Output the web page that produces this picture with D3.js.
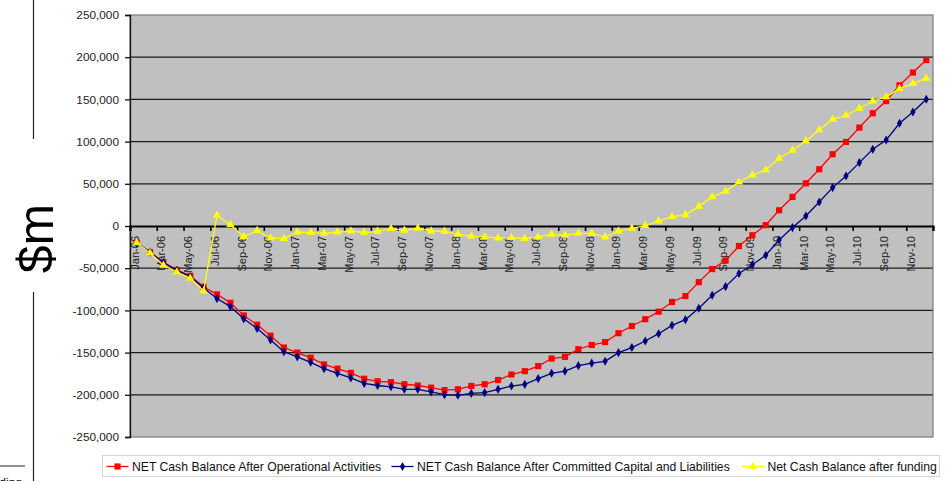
<!DOCTYPE html>
<html>
<head>
<meta charset="utf-8">
<script src="https://cdn.jsdelivr.net/npm/d3@7"></script>
<style>
  html, body { margin: 0; padding: 0; background: #ffffff; }
  svg { display: block; font-family: "Liberation Sans", Arial, sans-serif; }
</style>
</head>
<body>
<svg id="chart" width="950" height="481"></svg>
<script>
// Monthly periods, Jan-06 .. Dec-10
const monthNames = ["Jan","Feb","Mar","Apr","May","Jun","Jul","Aug","Sep","Oct","Nov","Dec"];
const years = ["06","07","08","09","10"];
const months = years.flatMap(y => monthNames.map(m => m + "-" + y));

// Cash balances ($m)
const operational = [
  -20000, -31000, -43000, -52000, -59000, -72000, -81000, -91000, -106000, -117000, -130000, -144000,
  -150000, -156000, -164000, -169000, -174000, -181000, -184000, -185000, -187500, -189000, -191500, -194500,
  -193500, -189500, -187500, -182500, -176000, -172000, -166000, -157000, -155000, -146000, -141000, -137500,
  -127000, -118500, -110500, -101500, -90000, -83000, -66500, -51000, -41000, -23700, -11000, 1000,
  18600, 34400, 50600, 67200, 85000, 99600, 116600, 133600, 148000, 166700, 181800, 196700
];
const committed = [
  -20000, -31000, -43500, -52500, -60000, -73500, -86000, -95500, -110000, -121500, -135000, -149000,
  -155000, -161500, -169000, -174500, -180000, -186500, -189000, -190500, -193500, -193500, -196500, -199800,
  -200600, -198300, -197400, -193500, -189600, -187600, -180800, -174500, -172000, -165500, -162500, -160300,
  -150000, -144000, -136300, -127600, -117700, -111000, -97500, -82100, -71800, -56300, -46000, -34700,
  -16600, -1900, 11900, 28400, 45500, 59300, 75100, 90900, 101900, 121700, 135100, 150100
];
const afterFunding = [
  -20000, -32000, -46500, -54500, -62000, -77000, 12700, 1600, -12600, -5500, -14200, -15000,
  -7100, -7900, -8700, -7100, -5900, -7900, -6300, -3100, -5100, -2700, -5900, -6300,
  -9800, -11900, -13000, -14200, -13800, -15000, -13000, -9800, -11000, -8700, -8700, -13000,
  -6000, -2700, 500, 5900, 11100, 13300, 23300, 34600, 41000, 52100, 60400, 66400,
  80200, 89700, 100800, 113800, 126400, 131200, 139500, 148100, 152900, 162800, 168700, 175000
];

const seriesNames = [
  "NET Cash Balance After Operational Activities",
  "NET Cash Balance After Committed Capital and Liabilities",
  "Net Cash Balance after funding"
];
const yTicks = [250000, 200000, 150000, 100000, 50000, 0, -50000, -100000, -150000, -200000, -250000];
const unitLabel = "$m";

const svg = d3.select("#chart");

const plot = { left: 130, right: 933, top: 15, bottom: 437 };

const x = d3.scaleBand().domain(months).range([plot.left, plot.right]).padding(0);
const xIdx = d3.scaleLinear().domain([0, months.length]).range([plot.left, plot.right]);
const y = d3.scaleLinear().domain([-250000, 250000]).range([plot.bottom, plot.top]);
const cx = m => x(m) + x.bandwidth() / 2;
const fmt = v => d3.format(",")(v).replace("\u2212", "-");

// plot background
svg.append("rect")
  .attr("x", plot.left).attr("y", plot.top)
  .attr("width", plot.right - plot.left).attr("height", plot.bottom - plot.top)
  .attr("fill", "#c0c0c0");

// horizontal gridlines
svg.append("g").selectAll("line")
  .data(yTicks.filter(v => v !== 0 && Math.abs(v) !== 250000))
  .join("line")
  .attr("x1", plot.left).attr("x2", plot.right)
  .attr("y1", d => y(d)).attr("y2", d => y(d))
  .attr("stroke", "#1c1c1c").attr("stroke-width", 1.3);

// plot border
svg.append("rect")
  .attr("x", plot.left).attr("y", plot.top)
  .attr("width", plot.right - plot.left).attr("height", plot.bottom - plot.top)
  .attr("fill", "none").attr("stroke", "#7a7a7a").attr("stroke-width", 1.2);

// y axis
const yAxis = svg.append("g")
  .attr("transform", `translate(${plot.left},0)`)
  .call(d3.axisLeft(y).tickValues(yTicks).tickSize(5).tickPadding(6).tickFormat(fmt));
yAxis.select(".domain").attr("stroke", "#111").attr("stroke-width", 1.3);
yAxis.selectAll(".tick line").attr("stroke", "#111").attr("stroke-width", 1.3);
yAxis.selectAll(".tick text")
  .attr("font-size", 11.8).attr("fill", "#222")
  .attr("font-family", "'Liberation Sans', Arial, sans-serif");

// category labels along the zero line
const y0 = y(0);
svg.append("g").selectAll("text")
  .data(months.filter((m, i) => i % 2 === 0))
  .join("text")
  .attr("transform", d => `translate(${cx(d) - 2},${y0 + 10}) rotate(-90)`)
  .attr("text-anchor", "end")
  .attr("dy", "0.35em")
  .attr("font-size", 11)
  .attr("fill", "#222")
  .text(d => d);

// x axis on the zero line
const xAxis = svg.append("g")
  .attr("transform", `translate(0,${y0})`)
  .call(d3.axisBottom(xIdx)
    .tickValues(d3.range(0, months.length + 1, 2))
    .tickSize(5).tickFormat(""));
xAxis.select(".domain").attr("stroke", "#000").attr("stroke-width", 2.2);
xAxis.selectAll(".tick line").attr("stroke", "#000").attr("stroke-width", 1.6);

// series
const series = [
  { name: seriesNames[0], values: operational, color: "#ff0000", symbol: d3.symbolSquare, size: 38 },
  { name: seriesNames[1], values: committed, color: "#000080", symbol: d3.symbolDiamond, size: 24 },
  { name: seriesNames[2], values: afterFunding, color: "#ffff00", symbol: d3.symbolTriangle, size: 30 }
];

const line = d3.line().x(d => cx(d.m)).y(d => y(d.v));

series.forEach(s => {
  const pts = months.map((m, i) => ({ m, v: s.values[i] }));
  const g = svg.append("g");
  g.append("path")
    .datum(pts)
    .attr("d", line)
    .attr("fill", "none")
    .attr("stroke", s.color)
    .attr("stroke-width", 1.3);
  g.selectAll("path.mk")
    .data(pts)
    .join("path")
    .attr("class", "mk")
    .attr("transform", d => `translate(${cx(d.m)},${y(d.v)})`)
    .attr("d", d3.symbol(s.symbol, s.size))
    .attr("fill", s.color);
});

// legend
const legend = svg.append("g");
legend.append("rect")
  .attr("x", 102.5).attr("y", 455.5).attr("width", 837).attr("height", 21)
  .attr("fill", "#ffffff").attr("stroke", "#d4d4d4").attr("stroke-width", 1);
const legendX = [106.5, 391.5, 742];
series.forEach((s, i) => {
  const lx = legendX[i];
  const ly = 466.5;
  legend.append("line")
    .attr("x1", lx).attr("x2", lx + 22).attr("y1", ly).attr("y2", ly)
    .attr("stroke", s.color).attr("stroke-width", 1.3);
  legend.append("path")
    .attr("transform", `translate(${lx + 11},${ly})`)
    .attr("d", d3.symbol(s.symbol, s.size))
    .attr("fill", s.color);
  legend.append("text")
    .attr("x", lx + 25.5).attr("y", 470.5)
    .attr("font-size", 12.2).attr("fill", "#111")
    .text(s.name);
});

// unit label and surrounding rules
svg.append("text")
  .attr("transform", "translate(53,238.5) rotate(-90)")
  .attr("text-anchor", "middle")
  .attr("font-size", 50)
  .attr("fill", "#000")
  .text(unitLabel);
svg.append("line").attr("x1", 33.5).attr("x2", 33.5).attr("y1", 0).attr("y2", 139)
  .attr("stroke", "#222").attr("stroke-width", 1.2);
svg.append("line").attr("x1", 33.5).attr("x2", 33.5).attr("y1", 292).attr("y2", 481)
  .attr("stroke", "#222").attr("stroke-width", 1.2);
svg.append("line").attr("x1", 0).attr("x2", 25).attr("y1", 466).attr("y2", 466)
  .attr("stroke", "#222").attr("stroke-width", 1);
svg.append("text")
  .attr("x", 22).attr("y", 487)
  .attr("text-anchor", "end")
  .attr("font-size", 12).attr("fill", "#000")
  .text("funding");
</script>
</body>
</html>
